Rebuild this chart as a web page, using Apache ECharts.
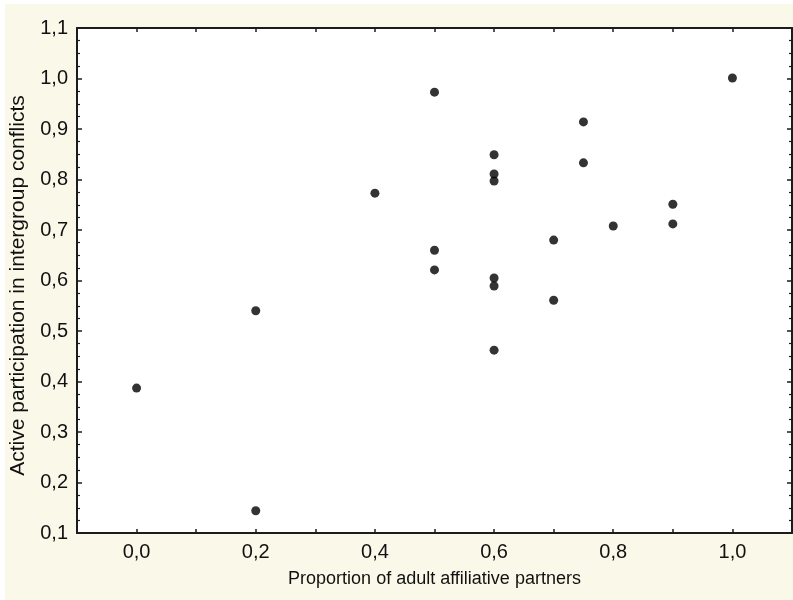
<!DOCTYPE html>
<html>
<head>
<meta charset="utf-8">
<script src="https://cdn.jsdelivr.net/npm/echarts@6/dist/echarts.min.js"></script>
<style>
  html, body { margin: 0; padding: 0; background: #fff; }
  #chart { width: 793px; height: 600px; }
</style>
</head>
<body>
<div id="chart"></div>
<script>
// proportion of adult affiliative partners
var partners = [0.0, 0.2, 0.2, 0.4, 0.5, 0.5, 0.5, 0.6, 0.6, 0.6, 0.6, 0.6, 0.6,
                0.7, 0.7, 0.75, 0.75, 0.8, 0.9, 0.9, 1.0];
// active participation in intergroup conflicts
var participation = [0.387, 0.540, 0.144, 0.773, 0.973, 0.660, 0.621, 0.849, 0.811, 0.797,
                     0.605, 0.589, 0.462, 0.680, 0.561, 0.914, 0.833, 0.708, 0.751, 0.712, 1.001];

var xLabels = [0, 0.2, 0.4, 0.6, 0.8, 1.0];
var xTicks = [0, 0.1, 0.2, 0.3, 0.4, 0.5, 0.6, 0.7, 0.8, 0.9, 1.0];

var xTitle = 'Proportion of adult affiliative partners';
var yTitle = 'Active participation in intergroup conflicts';

var points = [];
for (var i = 0; i < partners.length; i++) {
	points.push([partners[i], participation[i]]);
}

function comma(v) {
	return v.toFixed(1).replace('.', ',');
}

var font = 'Liberation Sans, Arial, sans-serif';
var lineCol = '#1c1c1c';
var textCol = '#111111';

var axisLine = { show : true, onZero : false, lineStyle : { color : lineCol, width : 2 } };
var xTickStyle = { show : true, inside : true, length : 4, customValues : xTicks,
	lineStyle : { color : lineCol, width : 1.5 } };
var yTickStyle = { show : true, inside : true, length : 5, lineStyle : { color : lineCol, width : 1.5 } };
var yMinor = { show : true, splitNumber : 4, length : 3, lineStyle : { color : lineCol, width : 1.2 } };

var option = {
	backgroundColor : '#ffffff',
	animation : false,
	graphic : [ {
		type : 'rect',
		z : -10,
		shape : { x : 5, y : 4, width : 788, height : 596 },
		style : { fill : '#faf8e9' }
	} ],
	grid : {
		left : 77,
		right : 1,
		top : 28,
		bottom : 67,
		show : true,
		backgroundColor : '#ffffff',
		borderWidth : 0
	},
	xAxis : [ {
		type : 'value',
		min : -0.1,
		max : 1.1,
		position : 'bottom',
		axisLine : axisLine,
		axisTick : xTickStyle,
		splitLine : { show : false },
		axisLabel : {
			margin : 9,
			color : textCol,
			fontFamily : font,
			fontSize : 20,
			customValues : xLabels,
			formatter : comma
		},
		name : xTitle,
		nameLocation : 'middle',
		nameGap : 37,
		nameTextStyle : { color : textCol, fontFamily : font, fontSize : 18 }
	}, {
		type : 'value',
		min : -0.1,
		max : 1.1,
		position : 'top',
		axisLine : axisLine,
		axisTick : xTickStyle,
		axisLabel : { show : false },
		splitLine : { show : false }
	} ],
	yAxis : [ {
		type : 'value',
		min : 0.1,
		max : 1.1,
		interval : 0.1,
		position : 'left',
		axisLine : axisLine,
		axisTick : yTickStyle,
		minorTick : yMinor,
		splitLine : { show : false },
		axisLabel : {
			margin : 9,
			color : textCol,
			fontFamily : font,
			fontSize : 20,
			formatter : comma
		},
		name : yTitle,
		nameLocation : 'middle',
		nameGap : 48,
		nameTextStyle : { color : textCol, fontFamily : font, fontSize : 21, padding : [0, 10, 0, 0] }
	}, {
		type : 'value',
		min : 0.1,
		max : 1.1,
		interval : 0.1,
		position : 'right',
		axisLine : axisLine,
		axisTick : yTickStyle,
		minorTick : yMinor,
		axisLabel : { show : false },
		splitLine : { show : false }
	} ],
	series : [ {
		type : 'scatter',
		data : points,
		symbol : 'circle',
		symbolSize : 9,
		itemStyle : { color : '#000000' }
	} ]
};

var chart = echarts.init(document.getElementById('chart'));
chart.setOption(option);
</script>
</body>
</html>
